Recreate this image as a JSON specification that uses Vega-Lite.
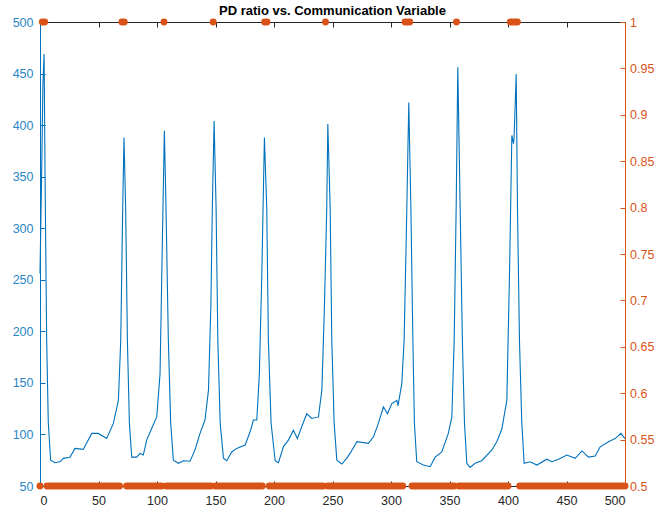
{
  "$schema": "https://vega.github.io/schema/vega-lite/v6.json",
  "autosize": "none",
  "padding": {"left": 40, "top": 22, "right": 32, "bottom": 26},
  "width": 585,
  "height": 464,
  "background": "white",
  "view": {"stroke": null},
  "config": {
    "font": "Liberation Sans",
    "axis": {"labelFont": "Liberation Sans", "labelFontSize": 12.5, "grid": false, "domainWidth": 1, "tickWidth": 1, "title": null}
  },
  "title": {"text": "PD ratio vs. Communication Variable", "font": "Liberation Sans", "fontSize": 13, "fontWeight": "bold", "color": "#000000", "offset": -2},
  "datasets": {
    "pd": [
      {"t":0,"v":256},{"t":1.5,"v":360},{"t":2.5,"v":440},{"t":3.5,"v":469},{"t":4.3,"v":353},{"t":5.7,"v":191},{"t":7.1,"v":111},{"t":9.1,"v":75},{"t":12.8,"v":72.6},{"t":17.1,"v":73.5},{"t":20,"v":76.8},{"t":25.6,"v":77.8},{"t":29.9,"v":86.5},{"t":37,"v":85.5},{"t":44.2,"v":101},{"t":49.9,"v":101},{"t":57,"v":96},{"t":62.7,"v":110.7},{"t":67,"v":133},{"t":69,"v":191},{"t":70.7,"v":320},{"t":71.8,"v":388},{"t":73.2,"v":320},{"t":74.7,"v":191},{"t":76.4,"v":110.7},{"t":78.4,"v":78},{"t":82.7,"v":78},{"t":85.5,"v":81.6},{"t":88.3,"v":80},{"t":91.2,"v":94.5},{"t":95.5,"v":106},{"t":99.8,"v":117},{"t":102.6,"v":159},{"t":104.6,"v":288},{"t":106.3,"v":394.6},{"t":107.7,"v":320},{"t":109.7,"v":191},{"t":111.7,"v":111},{"t":114,"v":75},{"t":118.3,"v":72},{"t":122.5,"v":74.5},{"t":128.2,"v":74},{"t":132.5,"v":85},{"t":136.8,"v":101},{"t":141,"v":114},{"t":144,"v":143},{"t":146,"v":223.6},{"t":147.3,"v":320},{"t":148.8,"v":404},{"t":150.5,"v":320},{"t":152,"v":191},{"t":154,"v":111},{"t":156.8,"v":77},{"t":159.6,"v":74.5},{"t":163.9,"v":83},{"t":168.1,"v":86.5},{"t":175.3,"v":89.7},{"t":179.6,"v":102.6},{"t":182.4,"v":114},{"t":185.3,"v":114},{"t":187.5,"v":159},{"t":189.6,"v":256},{"t":191.8,"v":388},{"t":193.8,"v":320},{"t":195.2,"v":191},{"t":197.5,"v":111},{"t":201,"v":74.5},{"t":203.8,"v":72.6},{"t":208,"v":88},{"t":212.3,"v":94.5},{"t":216.6,"v":104},{"t":220,"v":96},{"t":223.7,"v":107.4},{"t":228,"v":120},{"t":232.3,"v":115.5},{"t":238,"v":117},{"t":240.9,"v":143},{"t":243.1,"v":223.6},{"t":245.1,"v":320},{"t":246,"v":401},{"t":248,"v":320},{"t":249.4,"v":191},{"t":251.4,"v":111},{"t":253.7,"v":75},{"t":258,"v":71.3},{"t":262.2,"v":77},{"t":265,"v":81.6},{"t":270.8,"v":93},{"t":280.7,"v":91.3},{"t":285,"v":97.7},{"t":289.2,"v":110.7},{"t":293.5,"v":126.8},{"t":297,"v":120},{"t":300.7,"v":130},{"t":305,"v":133},{"t":306,"v":128},{"t":309.2,"v":149},{"t":311.2,"v":191},{"t":313,"v":288},{"t":315.2,"v":422},{"t":317,"v":320},{"t":318.7,"v":191},{"t":320,"v":111},{"t":322,"v":73.5},{"t":327.7,"v":70.3},{"t":333.5,"v":68.7},{"t":337.7,"v":78},{"t":343.4,"v":83},{"t":349,"v":101},{"t":352,"v":117},{"t":354,"v":191},{"t":355.7,"v":320},{"t":357.1,"v":456},{"t":359.1,"v":320},{"t":361,"v":191},{"t":362.8,"v":111},{"t":364.8,"v":72},{"t":367.6,"v":68},{"t":371.9,"v":72},{"t":377.6,"v":74.5},{"t":386.2,"v":85},{"t":390.4,"v":93},{"t":394.7,"v":105},{"t":399,"v":133},{"t":401.3,"v":256},{"t":403.3,"v":390},{"t":404.7,"v":382},{"t":405.2,"v":388},{"t":407,"v":449.5},{"t":408.1,"v":320},{"t":409.8,"v":191},{"t":411.8,"v":111},{"t":413.8,"v":72},{"t":418.9,"v":73.5},{"t":424.7,"v":70.3},{"t":433.2,"v":76},{"t":437.5,"v":73.5},{"t":443.2,"v":76},{"t":450.3,"v":80},{"t":457.4,"v":76.8},{"t":463.2,"v":84},{"t":468.8,"v":78},{"t":474.5,"v":79},{"t":478.8,"v":88},{"t":485.9,"v":93},{"t":491.6,"v":96},{"t":496.5,"v":101},{"t":499.3,"v":97},{"t":500,"v":96}
    ],
    "comm": [
      {"t":0,"c":0.5},{"t":2,"c":1},{"t":4,"c":1},{"t":6,"c":0.5},{"t":8,"c":0.5},{"t":10,"c":0.5},{"t":12,"c":0.5},{"t":14,"c":0.5},{"t":16,"c":0.5},{"t":18,"c":0.5},{"t":20,"c":0.5},{"t":22,"c":0.5},{"t":24,"c":0.5},{"t":26,"c":0.5},{"t":28,"c":0.5},{"t":30,"c":0.5},{"t":32,"c":0.5},{"t":34,"c":0.5},{"t":36,"c":0.5},{"t":38,"c":0.5},{"t":40,"c":0.5},{"t":42,"c":0.5},{"t":44,"c":0.5},{"t":46,"c":0.5},{"t":48,"c":0.5},{"t":50,"c":0.5},{"t":52,"c":0.5},{"t":54,"c":0.5},{"t":56,"c":0.5},{"t":58,"c":0.5},{"t":60,"c":0.5},{"t":62,"c":0.5},{"t":64,"c":0.5},{"t":66,"c":0.5},{"t":68,"c":0.5},{"t":70,"c":1},{"t":72,"c":1},{"t":74,"c":0.5},{"t":76,"c":0.5},{"t":78,"c":0.5},{"t":80,"c":0.5},{"t":82,"c":0.5},{"t":84,"c":0.5},{"t":86,"c":0.5},{"t":88,"c":0.5},{"t":90,"c":0.5},{"t":92,"c":0.5},{"t":94,"c":0.5},{"t":96,"c":0.5},{"t":98,"c":0.5},{"t":100,"c":0.5},{"t":102,"c":0.5},{"t":104,"c":0.5},{"t":106,"c":1},{"t":108,"c":0.5},{"t":110,"c":0.5},{"t":112,"c":0.5},{"t":114,"c":0.5},{"t":116,"c":0.5},{"t":118,"c":0.5},{"t":120,"c":0.5},{"t":122,"c":0.5},{"t":124,"c":0.5},{"t":126,"c":0.5},{"t":128,"c":0.5},{"t":130,"c":0.5},{"t":132,"c":0.5},{"t":134,"c":0.5},{"t":136,"c":0.5},{"t":138,"c":0.5},{"t":140,"c":0.5},{"t":142,"c":0.5},{"t":144,"c":0.5},{"t":146,"c":0.5},{"t":148,"c":1},{"t":150,"c":0.5},{"t":152,"c":0.5},{"t":154,"c":0.5},{"t":156,"c":0.5},{"t":158,"c":0.5},{"t":160,"c":0.5},{"t":162,"c":0.5},{"t":164,"c":0.5},{"t":166,"c":0.5},{"t":168,"c":0.5},{"t":170,"c":0.5},{"t":172,"c":0.5},{"t":174,"c":0.5},{"t":176,"c":0.5},{"t":178,"c":0.5},{"t":180,"c":0.5},{"t":182,"c":0.5},{"t":184,"c":0.5},{"t":186,"c":0.5},{"t":188,"c":0.5},{"t":190,"c":0.5},{"t":192,"c":1},{"t":194,"c":1},{"t":196,"c":0.5},{"t":198,"c":0.5},{"t":200,"c":0.5},{"t":202,"c":0.5},{"t":204,"c":0.5},{"t":206,"c":0.5},{"t":208,"c":0.5},{"t":210,"c":0.5},{"t":212,"c":0.5},{"t":214,"c":0.5},{"t":216,"c":0.5},{"t":218,"c":0.5},{"t":220,"c":0.5},{"t":222,"c":0.5},{"t":224,"c":0.5},{"t":226,"c":0.5},{"t":228,"c":0.5},{"t":230,"c":0.5},{"t":232,"c":0.5},{"t":234,"c":0.5},{"t":236,"c":0.5},{"t":238,"c":0.5},{"t":240,"c":0.5},{"t":242,"c":0.5},{"t":244,"c":1},{"t":246,"c":0.5},{"t":248,"c":0.5},{"t":250,"c":0.5},{"t":252,"c":0.5},{"t":254,"c":0.5},{"t":256,"c":0.5},{"t":258,"c":0.5},{"t":260,"c":0.5},{"t":262,"c":0.5},{"t":264,"c":0.5},{"t":266,"c":0.5},{"t":268,"c":0.5},{"t":270,"c":0.5},{"t":272,"c":0.5},{"t":274,"c":0.5},{"t":276,"c":0.5},{"t":278,"c":0.5},{"t":280,"c":0.5},{"t":282,"c":0.5},{"t":284,"c":0.5},{"t":286,"c":0.5},{"t":288,"c":0.5},{"t":290,"c":0.5},{"t":292,"c":0.5},{"t":294,"c":0.5},{"t":296,"c":0.5},{"t":298,"c":0.5},{"t":300,"c":0.5},{"t":302,"c":0.5},{"t":304,"c":0.5},{"t":306,"c":0.5},{"t":308,"c":0.5},{"t":310,"c":0.5},{"t":312,"c":1},{"t":314,"c":1},{"t":316,"c":1},{"t":318,"c":0.5},{"t":320,"c":0.5},{"t":322,"c":0.5},{"t":324,"c":0.5},{"t":326,"c":0.5},{"t":328,"c":0.5},{"t":330,"c":0.5},{"t":332,"c":0.5},{"t":334,"c":0.5},{"t":336,"c":0.5},{"t":338,"c":0.5},{"t":340,"c":0.5},{"t":342,"c":0.5},{"t":344,"c":0.5},{"t":346,"c":0.5},{"t":348,"c":0.5},{"t":350,"c":0.5},{"t":352,"c":0.5},{"t":354,"c":0.5},{"t":356,"c":1},{"t":358,"c":0.5},{"t":360,"c":0.5},{"t":362,"c":0.5},{"t":364,"c":0.5},{"t":366,"c":0.5},{"t":368,"c":0.5},{"t":370,"c":0.5},{"t":372,"c":0.5},{"t":374,"c":0.5},{"t":376,"c":0.5},{"t":378,"c":0.5},{"t":380,"c":0.5},{"t":382,"c":0.5},{"t":384,"c":0.5},{"t":386,"c":0.5},{"t":388,"c":0.5},{"t":390,"c":0.5},{"t":392,"c":0.5},{"t":394,"c":0.5},{"t":396,"c":0.5},{"t":398,"c":0.5},{"t":400,"c":0.5},{"t":402,"c":1},{"t":404,"c":1},{"t":406,"c":1},{"t":408,"c":1},{"t":410,"c":0.5},{"t":412,"c":0.5},{"t":414,"c":0.5},{"t":416,"c":0.5},{"t":418,"c":0.5},{"t":420,"c":0.5},{"t":422,"c":0.5},{"t":424,"c":0.5},{"t":426,"c":0.5},{"t":428,"c":0.5},{"t":430,"c":0.5},{"t":432,"c":0.5},{"t":434,"c":0.5},{"t":436,"c":0.5},{"t":438,"c":0.5},{"t":440,"c":0.5},{"t":442,"c":0.5},{"t":444,"c":0.5},{"t":446,"c":0.5},{"t":448,"c":0.5},{"t":450,"c":0.5},{"t":452,"c":0.5},{"t":454,"c":0.5},{"t":456,"c":0.5},{"t":458,"c":0.5},{"t":460,"c":0.5},{"t":462,"c":0.5},{"t":464,"c":0.5},{"t":466,"c":0.5},{"t":468,"c":0.5},{"t":470,"c":0.5},{"t":472,"c":0.5},{"t":474,"c":0.5},{"t":476,"c":0.5},{"t":478,"c":0.5},{"t":480,"c":0.5},{"t":482,"c":0.5},{"t":484,"c":0.5},{"t":486,"c":0.5},{"t":488,"c":0.5},{"t":490,"c":0.5},{"t":492,"c":0.5},{"t":494,"c":0.5},{"t":496,"c":0.5},{"t":498,"c":0.5},{"t":500,"c":0.5}
    ]
  },
  "layer": [
    {
      "data": {"name": "pd"},
      "mark": {"type": "line", "color": "#0072BD", "strokeWidth": 1.1, "clip": false},
      "encoding": {
        "x": {"field": "t", "type": "quantitative", "scale": {"domain": [0, 500], "nice": false},
          "axis": {"orient": "bottom", "values": [0,50,100,150,200,250,300,350,400,450,500], "tickSize": -5, "labelPadding": 13, "domainColor": "#262626", "tickColor": "#262626", "labelColor": "#262626"}},
        "y": {"field": "v", "type": "quantitative", "scale": {"domain": [50, 500], "nice": false, "zero": false},
          "axis": {"orient": "left", "values": [50,100,150,200,250,300,350,400,450,500], "tickSize": -5, "labelPadding": 12, "domainColor": "#0072BD", "tickColor": "#0072BD", "labelColor": "#2A86C6"}}
      }
    },
    {
      "data": {"name": "comm"},
      "mark": {"type": "point", "filled": true, "shape": "circle", "size": 48, "color": "#D95319", "opacity": 1, "clip": false},
      "encoding": {
        "x": {"field": "t", "type": "quantitative", "scale": {"domain": [0, 500], "nice": false},
          "axis": {"orient": "top", "values": [0,50,100,150,200,250,300,350,400,450,500], "labels": false, "tickSize": -5, "domainColor": "#262626", "tickColor": "#262626"}},
        "y": {"field": "c", "type": "quantitative", "scale": {"domain": [0.5, 1], "nice": false, "zero": false},
          "axis": {"orient": "right", "values": [0.5,0.55,0.6,0.65,0.7,0.75,0.8,0.85,0.9,0.95,1], "format": ".2~f", "tickSize": -5, "labelPadding": 9.5, "domainColor": "#D95319", "tickColor": "#D95319", "labelColor": "#D95319"}}
      }
    }
  ],
  "resolve": {"scale": {"y": "independent"}, "axis": {"x": "independent"}}
}
